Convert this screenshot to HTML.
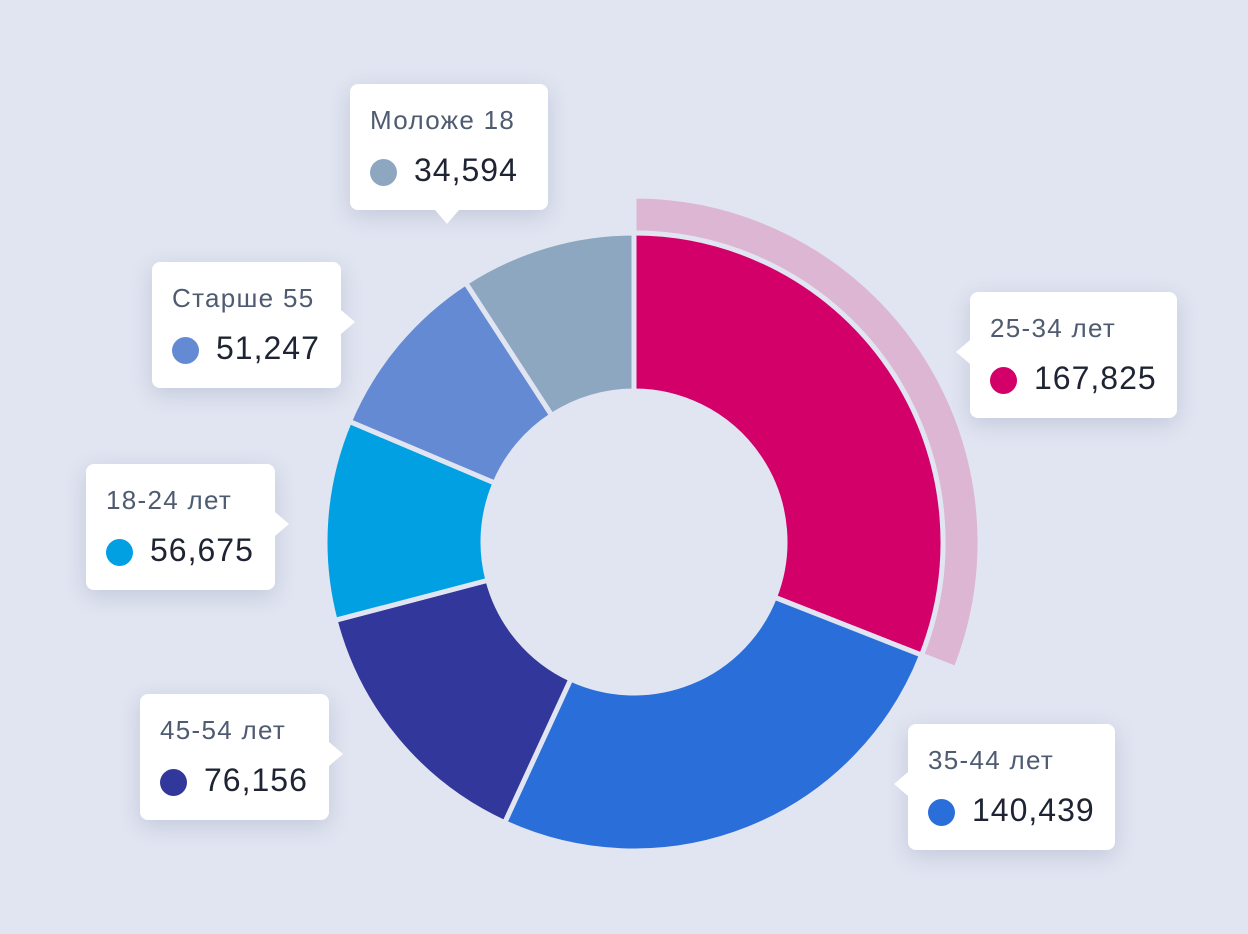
<!DOCTYPE html>
<html><head><meta charset="utf-8">
<style>
html,body{margin:0;padding:0;background:#e1e5f1;}
body{width:1248px;height:934px;overflow:hidden;position:relative;font-family:"Liberation Sans","Noto Sans CJK SC",sans-serif;}
svg{position:absolute;left:0;top:0;}
.tip{position:absolute;background:#fff;border-radius:8px;box-shadow:0 6px 22px rgba(60,70,120,0.18);}
.tip .lab{position:absolute;left:20px;top:21px;font-size:26px;letter-spacing:1.3px;color:#4f5b70;white-space:nowrap;}
.tip .dot{position:absolute;left:20px;top:75px;width:27px;height:27px;border-radius:50%;}
.tip .val{position:absolute;left:64px;top:68px;font-size:32px;letter-spacing:1px;color:#1e2433;white-space:nowrap;}
.arr{position:absolute;width:0;height:0;}
</style></head>
<body>
<svg id="chart" width="1248" height="934"></svg>
<div id="tips"></div>
<script>
const categories=["25-34 лет","35-44 лет","45-54 лет","18-24 лет","Старше 55","Моложе 18"];
const values=[167825,140439,76156,56675,51247,34594];
const labels=["167,825","140,439","76,156","56,675","51,247","34,594"];
const colors=["#d4006a","#2a6ed9","#32379b","#00a0e3","#648ad4","#8ea7c1"];
const highlighted=0;
const minAngleDeg=33;
const cx=634,cy=542,R=309,r=151,RH=346;
const svg=document.getElementById('chart');
const NS="http://www.w3.org/2000/svg";
// angles with minimum slice size
function computeAngles(){
  const full=2*Math.PI,minA=minAngleDeg*Math.PI/180;
  let small=values.map(()=>false);
  for(let it=0;it<5;it++){
    const nSmall=small.filter(x=>x).length;
    const rest=values.reduce((s,v,i)=>small[i]?s:s+v,0);
    const avail=full-nSmall*minA;
    let changed=false;
    values.forEach((v,i)=>{if(!small[i]&&v/rest*avail<minA){small[i]=true;changed=true;}});
    if(!changed){return values.map((v,i)=>small[i]?minA:v/rest*avail);}
  }
  const t=values.reduce((a,b)=>a+b,0);return values.map(v=>v/t*full);
}
function pt(a,rad){return [cx+rad*Math.sin(a),cy-rad*Math.cos(a)];}
function arc(a0,a1,ri,ro){
  const [x0,y0]=pt(a0,ro),[x1,y1]=pt(a1,ro),[x2,y2]=pt(a1,ri),[x3,y3]=pt(a0,ri);
  const lg=(a1-a0)>Math.PI?1:0;
  return `M${x0},${y0}A${ro},${ro} 0 ${lg} 1 ${x1},${y1}L${x2},${y2}A${ri},${ri} 0 ${lg} 0 ${x3},${y3}Z`;
}
const angles=computeAngles();
let a=0;
values.forEach((v,i)=>{
  const a1=a+angles[i];
  if(i===highlighted){
    const h=document.createElementNS(NS,'path');
    h.setAttribute('d',arc(a,a1,R,RH));
    h.setAttribute('fill','#dcb6d3');
    h.setAttribute('stroke','#e1e5f1');h.setAttribute('stroke-width','5');
    
    
    svg.appendChild(h);
  }
  const p=document.createElementNS(NS,'path');
  p.setAttribute('d',arc(a,a1,r,R));
  p.setAttribute('fill',colors[i]);
  p.setAttribute('stroke','#e1e5f1');p.setAttribute('stroke-width','5');p.setAttribute('stroke-linejoin','round');
  
  
  svg.appendChild(p);
  a=a1;
});
const tipBoxes=[[970,292,207,'left'],[908,724,207,'left'],[140,694,189,'right'],[86,464,189,'right'],[152,262,189,'right'],[350,84,198,'down']];
const tips=document.getElementById('tips');
categories.forEach((c,i)=>{
  const [x,y,w,side]=tipBoxes[i];
  const d=document.createElement('div');
  d.className='tip';
  d.style.left=x+'px';d.style.top=y+'px';d.style.width=w+'px';d.style.height='126px';
  
  
  d.innerHTML=`<div class="lab">${c}</div><div class="dot" style="background:${colors[i]}"></div><div class="val">${labels[i]}</div>`;
  const ar=document.createElement('div');ar.className='arr';
  if(side==='left'){ar.style.left='-14px';ar.style.top='48px';ar.style.borderTop='12px solid transparent';ar.style.borderBottom='12px solid transparent';ar.style.borderRight='14px solid #fff';}
  if(side==='right'){ar.style.right='-14px';ar.style.top='48px';ar.style.borderTop='12px solid transparent';ar.style.borderBottom='12px solid transparent';ar.style.borderLeft='14px solid #fff';}
  if(side==='down'){ar.style.left='85px';ar.style.bottom='-14px';ar.style.borderLeft='12px solid transparent';ar.style.borderRight='12px solid transparent';ar.style.borderTop='14px solid #fff';}
  
  
  d.appendChild(ar);
  tips.appendChild(d);
});
</script>
</body></html>
